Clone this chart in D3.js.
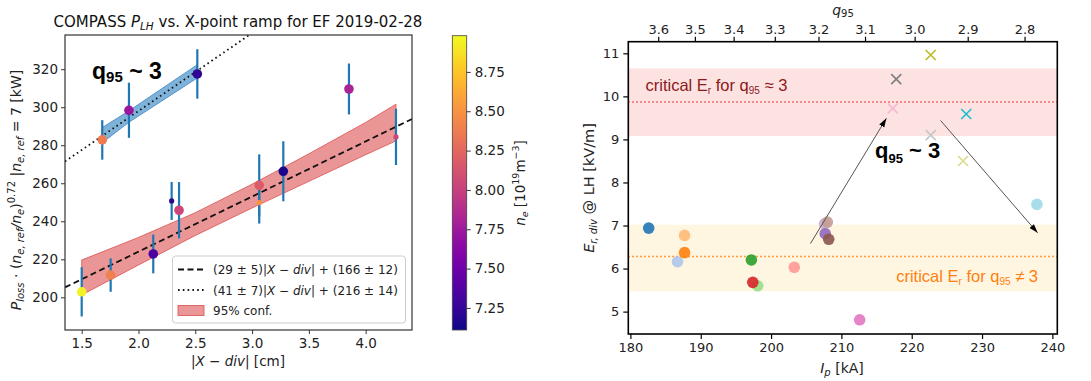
<!DOCTYPE html>
<html>
<head>
<meta charset="utf-8">
<script src="https://cdn.jsdelivr.net/npm/d3@7"></script>
<style>
  body { margin: 0; background: #fff; }
  svg { font-family: "DejaVu Sans", sans-serif; }
</style>
</head>
<body>
<div id="chart"></div>
<script>
// ---- left panel: P_LH vs |X-div| ----
const xdiv   = [1.50, 1.755, 2.13, 2.292, 2.357, 3.063, 3.063, 3.275, 3.853, 4.267];
const ploss  = [202.9, 211.7, 222.8, 250.7, 245.8, 258.9, 249.8, 266.3, 309.6, 284.4];
const plErr  = [13, 8.8, 10.2, 10, 14.8, 16.3, 11, 15.8, 13.4, 14.8];
const plNe   = [8.95, 8.40, 7.35, 7.20, 8.05, 8.18, 8.50, 7.14, 7.82, 8.05];
const plBig  = [1, 1, 1, 0, 1, 1, 0, 1, 1, 0];

const q3X   = [1.681, 1.916, 2.518];
const q3Y   = [282.8, 298.4, 317.5];
const q3Err = [10.4, 14.5, 13];
const q3Ne  = [8.38, 7.73, 7.22];

const fitSlope = [29, 41];
const fitIntercept = [166, 216];
const fitLabels = ["(29 ± 5)|", "(41 ± 7)|"];
const fitTails = ["| + (166 ± 12)", "| + (216 ± 14)"];

const bandX  = [1.5, 2.0, 2.5, 3.0, 3.5, 4.0, 4.267];
const bandHi = [219.6, 231.5, 244.5, 259.5, 275.5, 292, 301.6];
const bandLo = [201.2, 217, 232.5, 247, 261, 275, 282.3];

const blueX  = [1.681, 1.916, 2.518];
const blueHi = [289.3, 298.1, 322.4];
const blueLo = [281.3, 292.1, 315.4];

const leftXTicks = [1.5, 2.0, 2.5, 3.0, 3.5, 4.0];
const leftYTicks = [200, 220, 240, 260, 280, 300, 320];
const cbTicks = [7.25, 7.50, 7.75, 8.00, 8.25, 8.50, 8.75];

// ---- right panel: Er at LH vs Ip ----
const ipCirc  = [182.6, 186.7, 187.7, 187.7, 197.2, 198.1, 197.4, 203.3, 207.6, 207.7, 208.0, 208.2, 212.6, 237.8];
const erCirc  = [6.94, 6.16, 6.77, 6.37, 6.20, 5.60, 5.68, 6.03, 7.04, 6.81, 7.08, 6.68, 4.81, 7.49];
const colCirc = ["#1f77b4", "#aec7e8", "#ffbb78", "#ff7f0e", "#2ca02c", "#98df8a", "#d62728", "#ff9896",
                 "#c5b0d5", "#9467bd", "#c49c94", "#8c564b", "#e377c2", "#9edae5"];

const ipCross  = [217.8, 217.3, 222.7, 222.7, 227.75, 227.3];
const erCross  = [10.40, 9.72, 10.96, 9.10, 9.59, 8.50];
const colCross = ["#7f7f7f", "#f7b6d2", "#bcbd22", "#c7c7c7", "#17becf", "#dbdb8d"];

const critHigh = { lo: 9.08, mid: 9.87, hi: 10.65 };
const critLow  = { lo: 5.47, mid: 6.28, hi: 7.02 };

const arrowFrom = [[205.6, 6.58], [224.1, 9.44]];
const arrowTo   = [[216.4, 9.49], [237.9, 6.83]];

const ipTicks = [180, 190, 200, 210, 220, 230, 240];
const erTicks = [5, 6, 7, 8, 9, 10, 11];
const q95Ticks = [3.6, 3.5, 3.4, 3.3, 3.2, 3.1, 3.0, 2.9, 2.8];
const q95K = 656.3, q95B = 1.65;   // q95 = K / (Ip - B)

const W = 1091, H = 381;
const svg = d3.select("#chart").append("svg").attr("width", W).attr("height", H);

// rich text helper: parts {t, it, bold, fs, dy}
function rich(sel, parts) {
  let cur = 0;
  parts.forEach(p => {
    const target = p.dy || 0;
    const ts = sel.append("tspan").text(p.t).attr("dy", target - cur);
    cur = target;
    if (p.it) ts.attr("font-style", "italic");
    if (p.fs) ts.attr("font-size", p.fs);
    if (p.bold) ts.attr("font-weight", "bold");
  });
  return sel;
}

// ================= LEFT =================
const xL = d3.scaleLinear().domain([1.353, 4.408]).range([65, 412]);
const yL = d3.scaleLinear().domain([182.8, 338]).range([330, 35]);
const cNe = d3.scaleSequential(d3.interpolatePlasma).domain([7.11, 8.98]);

svg.append("clipPath").attr("id", "clipL").append("rect")
  .attr("x", 65).attr("y", 35).attr("width", 347).attr("height", 295);
const gL = svg.append("g").attr("clip-path", "url(#clipL)");

gL.append("path")
  .datum(bandX.map((x, i) => [x, bandLo[i], bandHi[i]]))
  .attr("d", d3.area().x(d => xL(d[0])).y0(d => yL(d[1])).y1(d => yL(d[2])))
  .attr("fill", "#e36a6a").attr("fill-opacity", 0.7)
  .attr("stroke", "#d94f4f").attr("stroke-width", 0.8);

gL.append("path")
  .datum(blueX.map((x, i) => [x, blueLo[i], blueHi[i]]))
  .attr("d", d3.area().x(d => xL(d[0])).y0(d => yL(d[1])).y1(d => yL(d[2])))
  .attr("fill", "#5f9fd0").attr("fill-opacity", 0.8)
  .attr("stroke", "#3f86c0").attr("stroke-width", 0.8);

const xd = xL.domain();
const fitLine = d3.line().x(d => xL(d[0])).y(d => yL(d[1]));
gL.append("path")
  .attr("d", fitLine(xd.map(x => [x, fitSlope[0] * x + fitIntercept[0]])))
  .attr("stroke", "#111").attr("stroke-width", 1.8).attr("fill", "none")
  .attr("stroke-dasharray", "6,3.5");
gL.append("path")
  .attr("d", fitLine(xd.map(x => [x, fitSlope[1] * x + fitIntercept[1]])))
  .attr("stroke", "#111").attr("stroke-width", 1.8).attr("fill", "none")
  .attr("stroke-dasharray", "1.6,3.2");

const allX = xdiv.concat(q3X), allY = ploss.concat(q3Y), allE = plErr.concat(q3Err);
const allNe = plNe.concat(q3Ne), allBig = plBig.concat([1, 1, 1]);
gL.selectAll("line.err").data(allX).enter().append("line")
  .attr("x1", d => xL(d)).attr("x2", d => xL(d))
  .attr("y1", (d, i) => yL(allY[i] - allE[i])).attr("y2", (d, i) => yL(allY[i] + allE[i]))
  .attr("stroke", "#1f77b4").attr("stroke-width", 2.2);
gL.selectAll("circle.pt").data(allX).enter().append("circle")
  .attr("cx", d => xL(d)).attr("cy", (d, i) => yL(allY[i]))
  .attr("r", (d, i) => allBig[i] ? 4.8 : 2.6)
  .attr("fill", (d, i) => cNe(allNe[i]));

// left frame & axes
svg.append("rect").attr("x", 65).attr("y", 35).attr("width", 347).attr("height", 295)
  .attr("fill", "none").attr("stroke", "#333").attr("stroke-width", 1.2);

const axL = svg.append("g").attr("transform", "translate(0,330)")
  .call(d3.axisBottom(xL).tickValues(leftXTicks).tickFormat(d3.format(".1f")).tickSize(4).tickPadding(4));
const ayL = svg.append("g").attr("transform", "translate(65,0)")
  .call(d3.axisLeft(yL).tickValues(leftYTicks).tickSize(4).tickPadding(3));
[axL, ayL].forEach(a => {
  a.select(".domain").remove();
  a.selectAll("text").attr("font-size", 13.5).attr("fill", "#222").attr("font-family", "DejaVu Sans");
  a.selectAll("line").attr("stroke", "#333");
});

rich(svg.append("text").attr("x", 238).attr("y", 27).attr("text-anchor", "middle")
  .attr("font-size", 15).attr("fill", "#111"), [
  { t: "COMPASS " }, { t: "P", it: 1 }, { t: "LH", it: 1, fs: 10.5, dy: 3 },
  { t: " vs. X-point ramp for EF 2019-02-28", dy: 0 }
]);

rich(svg.append("text").attr("x", 238).attr("y", 366).attr("text-anchor", "middle")
  .attr("font-size", 13.5).attr("fill", "#222"), [
  { t: "|" }, { t: "X", it: 1 }, { t: " − " }, { t: "div", it: 1 }, { t: "| [cm]" }
]);

rich(svg.append("text").attr("transform", "translate(21,190) rotate(-90)")
  .attr("text-anchor", "middle").attr("font-size", 14).attr("fill", "#222"), [
  { t: "P", it: 1 }, { t: "loss", it: 1, fs: 10, dy: 3 }, { t: " · (", dy: 0 }, { t: "n", it: 1 },
  { t: "e, ref", it: 1, fs: 10, dy: 3 }, { t: "/", it: 1, dy: 0 }, { t: "n", it: 1 }, { t: "e", it: 1, fs: 10, dy: 3 },
  { t: ")", dy: 0 }, { t: "0.72", fs: 10, dy: -6 }, { t: " |", dy: 0 }, { t: "n", it: 1 },
  { t: "e, ref", it: 1, fs: 10, dy: 3 }, { t: " = 7 [kW]", dy: 0 }
]);

rich(svg.append("text").attr("x", 92).attr("y", 79).attr("font-family", "Liberation Sans")
  .attr("font-weight", "bold").attr("font-size", 23).attr("fill", "#000"), [
  { t: "q" }, { t: "95", fs: 15, dy: 3 }, { t: " ~ 3", dy: 0 }
]);

// legend
const lg = svg.append("g");
lg.append("rect").attr("x", 172.5).attr("y", 256).attr("width", 233).attr("height", 67).attr("rx", 3)
  .attr("fill", "#fff").attr("fill-opacity", 0.85).attr("stroke", "#ccc");
const rowsY = [269.5, 290, 310.5];
lg.append("line").attr("x1", 178).attr("x2", 204).attr("y1", rowsY[0]).attr("y2", rowsY[0])
  .attr("stroke", "#111").attr("stroke-width", 1.8).attr("stroke-dasharray", "6,3.5");
lg.append("line").attr("x1", 178).attr("x2", 204).attr("y1", rowsY[1]).attr("y2", rowsY[1])
  .attr("stroke", "#111").attr("stroke-width", 1.8).attr("stroke-dasharray", "1.6,3.2");
lg.append("rect").attr("x", 178).attr("y", rowsY[2] - 5).attr("width", 26).attr("height", 10)
  .attr("fill", "#e36a6a").attr("fill-opacity", 0.7).attr("stroke", "#d94f4f").attr("stroke-width", 0.8);
[0, 1].forEach(i => {
  rich(lg.append("text").attr("x", 213).attr("y", rowsY[i] + 4.5).attr("font-size", 12).attr("fill", "#222"), [
    { t: fitLabels[i] }, { t: "X", it: 1 }, { t: " − " }, { t: "div", it: 1 }, { t: fitTails[i] }
  ]);
});
lg.append("text").attr("x", 213).attr("y", rowsY[2] + 4.5).attr("font-size", 12).attr("fill", "#222").text("95% conf.");

// colorbar
const yC = d3.scaleLinear().domain([7.11, 8.98]).range([330, 35.7]);
const grad = svg.append("defs").append("linearGradient").attr("id", "plasma")
  .attr("x1", 0).attr("x2", 0).attr("y1", 0).attr("y2", 1);
d3.range(0, 21).forEach(i => {
  grad.append("stop").attr("offset", i / 20).attr("stop-color", d3.interpolatePlasma(1 - i / 20));
});
svg.append("rect").attr("x", 452.3).attr("y", 35.7).attr("width", 14.4).attr("height", 294.3)
  .attr("fill", "url(#plasma)").attr("stroke", "#444").attr("stroke-width", 0.8);
const acb = svg.append("g").attr("transform", "translate(466.7,0)")
  .call(d3.axisRight(yC).tickValues(cbTicks).tickFormat(d3.format(".2f")).tickSize(4).tickPadding(4));
acb.select(".domain").remove();
acb.selectAll("text").attr("font-size", 13.5).attr("fill", "#222").attr("font-family", "DejaVu Sans");
acb.selectAll("line").attr("stroke", "#333");
rich(svg.append("text").attr("transform", "translate(525,183) rotate(-90)").attr("text-anchor", "middle")
  .attr("font-size", 13.5).attr("fill", "#222"), [
  { t: "n", it: 1 }, { t: "e", it: 1, fs: 9.5, dy: 3 }, { t: " [10", dy: 0 }, { t: "19", fs: 9.5, dy: -6 },
  { t: "m", dy: 0 }, { t: "−3", fs: 9.5, dy: -6 }, { t: "]", dy: 0 }
]);

// ================= RIGHT =================
const xR = d3.scaleLinear().domain([179.7, 240.7]).range([628.3, 1057.3]);
const yR = d3.scaleLinear().domain([4.48, 11.27]).range([334, 41.7]);

svg.append("clipPath").attr("id", "clipR").append("rect")
  .attr("x", 628.3).attr("y", 41.7).attr("width", 429).attr("height", 292.3);
const gR = svg.append("g").attr("clip-path", "url(#clipR)");

gR.append("rect").attr("x", 628.3).attr("width", 429)
  .attr("y", yR(critHigh.hi)).attr("height", yR(critHigh.lo) - yR(critHigh.hi)).attr("fill", "#fde2e2");
gR.append("rect").attr("x", 628.3).attr("width", 429)
  .attr("y", yR(critLow.hi)).attr("height", yR(critLow.lo) - yR(critLow.hi)).attr("fill", "#fff6e2");
gR.append("line").attr("x1", 628.3).attr("x2", 1057.3).attr("y1", yR(critHigh.mid)).attr("y2", yR(critHigh.mid))
  .attr("stroke", "#f04848").attr("stroke-width", 1.5).attr("stroke-dasharray", "1.5,2.5");
gR.append("line").attr("x1", 628.3).attr("x2", 1057.3).attr("y1", yR(critLow.mid)).attr("y2", yR(critLow.mid))
  .attr("stroke", "#ff7f0e").attr("stroke-width", 1.5).attr("stroke-dasharray", "1.5,2.5");

gR.selectAll("circle").data(ipCirc).enter().append("circle")
  .attr("cx", d => xR(d)).attr("cy", (d, i) => yR(erCirc[i])).attr("r", 5.8)
  .attr("fill", (d, i) => colCirc[i]).attr("fill-opacity", 0.9);

gR.selectAll("path.x").data(ipCross).enter().append("path")
  .attr("transform", (d, i) => `translate(${xR(d)},${yR(erCross[i])})`)
  .attr("d", "M-5,-5L5,5M-5,5L5,-5")
  .attr("stroke", (d, i) => colCross[i]).attr("stroke-width", 1.6).attr("fill", "none");

// arrows
const defs = svg.append("defs");
defs.append("marker").attr("id", "ah").attr("viewBox", "0 0 10 10").attr("refX", 10).attr("refY", 5)
  .attr("markerWidth", 9).attr("markerHeight", 9).attr("markerUnits", "userSpaceOnUse").attr("orient", "auto")
  .append("path").attr("d", "M0,1.8L10,5L0,8.2Z").attr("fill", "#000");
arrowFrom.forEach((f, i) => {
  svg.append("line").attr("x1", xR(f[0])).attr("y1", yR(f[1]))
    .attr("x2", xR(arrowTo[i][0])).attr("y2", yR(arrowTo[i][1]))
    .attr("stroke", "#555").attr("stroke-width", 1).attr("marker-end", "url(#ah)");
});

// texts
rich(svg.append("text").attr("x", 645.5).attr("y", 91).attr("font-family", "Liberation Sans")
  .attr("font-size", 16.5).attr("fill", "#8b1a1a"), [
  { t: "critical E" }, { t: "r", fs: 10, dy: 3 }, { t: " for q", dy: 0 }, { t: "95", fs: 10, dy: 3 }, { t: " ≈ 3", dy: 0 }
]);
rich(svg.append("text").attr("x", 1038).attr("y", 281.5).attr("text-anchor", "end").attr("font-family", "Liberation Sans")
  .attr("font-size", 16.5).attr("fill", "#ff7f0e"), [
  { t: "critical E" }, { t: "r", fs: 10, dy: 3 }, { t: " for q", dy: 0 }, { t: "95", fs: 10, dy: 3 }, { t: " ≠ 3", dy: 0 }
]);
rich(svg.append("text").attr("x", 875).attr("y", 158).attr("font-family", "Liberation Sans")
  .attr("font-weight", "bold").attr("font-size", 22).attr("fill", "#000"), [
  { t: "q" }, { t: "95", fs: 13, dy: 5 }, { t: " ~ 3", dy: 0 }
]);

// frame & axes
svg.append("rect").attr("x", 628.3).attr("y", 41.7).attr("width", 429).attr("height", 292.3)
  .attr("fill", "none").attr("stroke", "#000").attr("stroke-width", 1.6);

const axR = svg.append("g").attr("transform", "translate(0,334)")
  .call(d3.axisBottom(xR).tickValues(ipTicks).tickFormat(d3.format("d")).tickSize(5).tickPadding(4));
const ayR = svg.append("g").attr("transform", "translate(628.3,0)")
  .call(d3.axisLeft(yR).tickValues(erTicks).tickFormat(d3.format("d")).tickSize(5).tickPadding(4));
const qScale = d3.scaleLinear().domain(q95Ticks).range(q95Ticks.map(q => xR(q95K / q + q95B)));
const atR = svg.append("g").attr("transform", "translate(0,41.7)")
  .call(d3.axisTop(qScale).tickValues(q95Ticks).tickFormat(d3.format(".1f")).tickSize(5).tickPadding(3));
[axR, ayR, atR].forEach(a => {
  a.select(".domain").remove();
  a.selectAll("text").attr("font-size", 13).attr("fill", "#222").attr("font-family", "DejaVu Sans");
  a.selectAll("line").attr("stroke", "#000").attr("stroke-width", 1.2);
});

rich(svg.append("text").attr("x", 842).attr("y", 373).attr("text-anchor", "middle")
  .attr("font-size", 14).attr("fill", "#222"), [
  { t: "I", it: 1 }, { t: "p", it: 1, fs: 10, dy: 3 }, { t: " [kA]", dy: 0 }
]);
rich(svg.append("text").attr("x", 843).attr("y", 15).attr("text-anchor", "middle")
  .attr("font-size", 14).attr("fill", "#222"), [
  { t: "q", it: 1 }, { t: "95", fs: 10, dy: 2 }
]);
rich(svg.append("text").attr("transform", "translate(594,188) rotate(-90)").attr("text-anchor", "middle")
  .attr("font-size", 14.5).attr("fill", "#222"), [
  { t: "E", it: 1 }, { t: "r, div", it: 1, fs: 10, dy: 3 }, { t: " @ LH [kV/m]", dy: 0 }
]);
</script>
</body>
</html>
